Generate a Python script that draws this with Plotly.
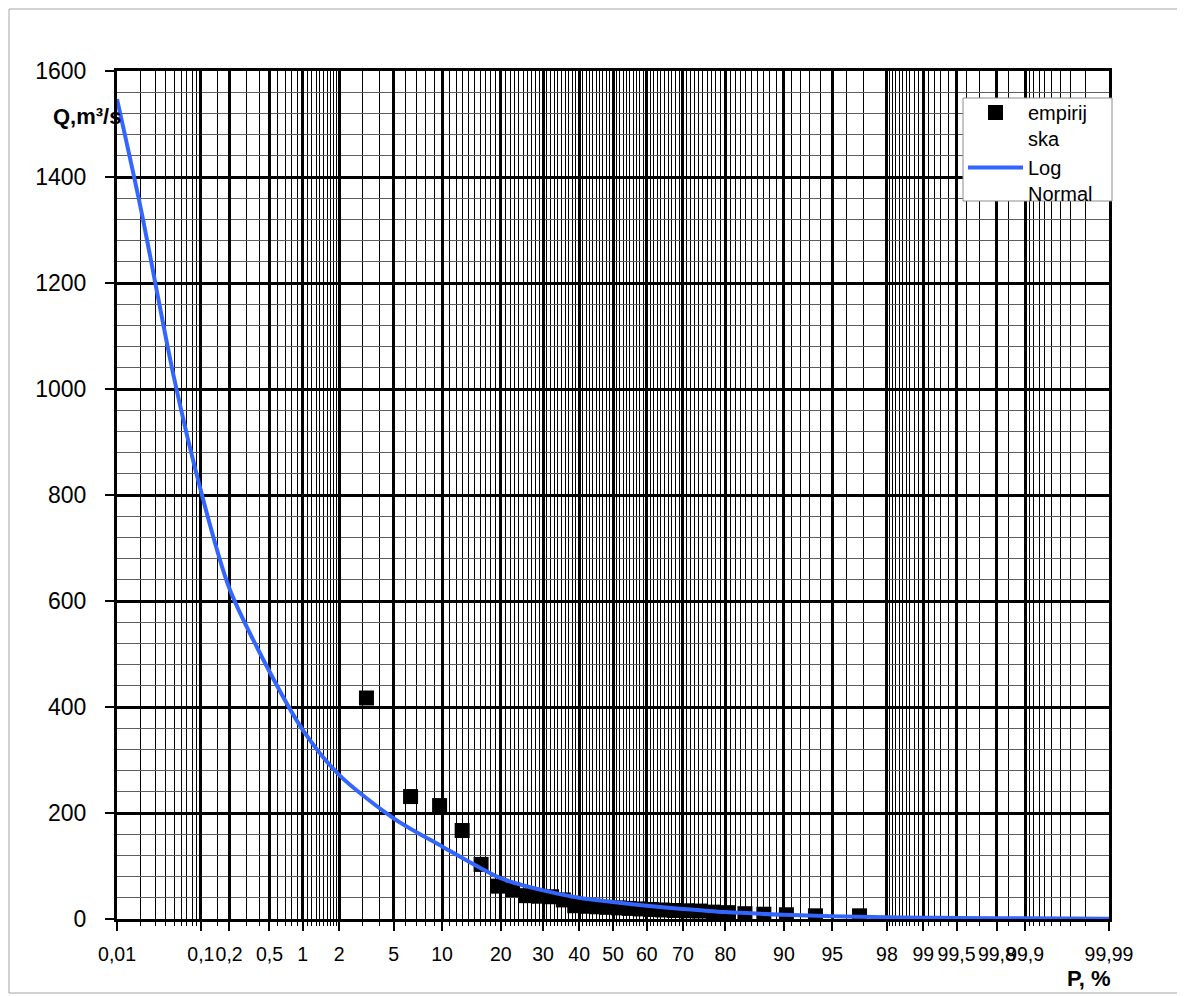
import plotly.graph_objects as go
from statistics import NormalDist

# ---------------- data ----------------
# empirical points: plotting position m/(n+1) in %, discharge Q (m3/s)
n_points = 30
emp_rank = list(range(1, n_points + 1))
emp_Q = [417, 231, 214, 167, 103, 62, 55, 44, 43, 42,
         36, 25, 24, 23, 22, 21, 20, 19, 18, 17,
         16, 15.5, 15, 13, 12, 10, 9, 8, 6, 6]

# fitted Log-Normal curve
curve_P = [0.01, 0.02, 0.05, 0.1, 0.2, 0.5, 1, 2, 5, 10, 20, 30, 40, 50,
           60, 70, 80, 90, 95, 98, 99, 99.5, 99.9, 99.99]
curve_Q = [1547, 1340, 1020, 808, 625, 467, 357, 272, 190, 137, 77, 54, 40, 32,
           25, 19, 13, 8, 5, 3.5, 2.5, 2, 1.2, 0.6]

# axis labels of the probability paper
tick_P = [0.01, 0.1, 0.2, 0.5, 1, 2, 5, 10, 20, 30, 40, 50, 60, 70, 80, 90,
          95, 98, 99, 99.5, 99.8, 99.9, 99.99]
tick_text = ["0,01", "0,1", "0,2", "0,5", "1", "2", "5", "10", "20", "30", "40",
             "50", "60", "70", "80", "90", "95", "98", "99", "99,5", "99,8",
             "99,9", "99,99"]

# thin grid lines of the probability paper
minor_P = ([0.02, 0.03, 0.04, 0.05, 0.06, 0.07, 0.08, 0.09, 0.15, 0.3, 0.4,
            0.6, 0.7, 0.8, 0.9]
           + [1.1, 1.2, 1.3, 1.4, 1.5, 1.6, 1.7, 1.8, 1.9, 3, 4, 6, 7, 8, 9]
           + [p for p in range(11, 90) if p % 10 != 0]
           + [91, 92, 93, 94, 96, 97]
           + [98.1, 98.2, 98.3, 98.4, 98.5, 98.6, 98.7, 98.8, 98.9,
              99.1, 99.2, 99.3, 99.4, 99.6, 99.7, 99.85,
              99.91, 99.92, 99.93, 99.94, 99.95, 99.96, 99.97, 99.98])

# ---------------- probability scale ----------------
_nd = NormalDist()


def pscale(p):
    return _nd.inv_cdf(p / 100.0)


emp_P = [100.0 * m / (n_points + 1) for m in emp_rank]

FONT = "Liberation Sans, Arial, sans-serif"

fig = go.Figure()

fig.add_trace(go.Scatter(
    x=[pscale(p) for p in emp_P], y=emp_Q, mode="markers",
    name="empirij<br>ska",
    marker=dict(symbol="square", size=15, color="black"),
))

fig.add_trace(go.Scatter(
    x=[pscale(p) for p in curve_P], y=curve_Q, mode="lines",
    name="Log<br>Normal",
    line=dict(color="#3366ff", width=4, shape="spline", smoothing=0.8),
))

# page offset of the figure (body margin) is 8 px
OFF = 8
W, H = 1185 - OFF, 996 - OFF
L, T = 117 - OFF, 71 - OFF
pw, ph = 992, 848
R, B = W - L - pw, H - T - ph


def px_x(x):
    return (x - OFF - L) / pw


def px_y(y):
    return (T + ph - (y - OFF)) / ph


fig.update_layout(
    width=W, height=H,
    margin=dict(l=L, r=R, t=T, b=B),
    paper_bgcolor="white", plot_bgcolor="white",
    font=dict(family=FONT, color="black", size=20),
    showlegend=True,
    legend=dict(
        x=px_x(963), y=px_y(93), xanchor="left", yanchor="top",
        bgcolor="rgba(0,0,0,0)", borderwidth=0,
        font=dict(family=FONT, size=20, color="black"),
        itemwidth=55, valign="top", tracegroupgap=0,
    ),
    xaxis=dict(
        range=[pscale(0.01), pscale(99.99)],
        tickmode="array",
        tickvals=[pscale(p) for p in tick_P],
        ticktext=tick_text,
        tickangle=0,
        tickfont=dict(family=FONT, size=19.5, color="black"),
        ticks="outside", ticklen=9, tickwidth=2, tickcolor="black",
        ticklabelstandoff=7,
        showgrid=True, gridcolor="black", gridwidth=3,
        showline=True, linecolor="black", linewidth=3, mirror=True,
        zeroline=False,
        minor=dict(
            tickmode="array",
            tickvals=[pscale(p) for p in minor_P],
            showgrid=True, gridcolor="black", gridwidth=1,
            ticks="outside", ticklen=4, tickwidth=1, tickcolor="black",
        ),
    ),
    yaxis=dict(
        range=[0, 1600],
        tickmode="linear", tick0=0, dtick=200,
        tickfont=dict(family=FONT, size=23, color="black"),
        ticks="outside", ticklen=9, tickwidth=2, tickcolor="black",
        ticklabelstandoff=14,
        showgrid=True, gridcolor="black", gridwidth=2.5,
        showline=True, linecolor="black", linewidth=3, mirror=True,
        zeroline=False,
        minor=dict(
            dtick=40, tick0=0, showgrid=True, gridcolor="#5e5e5e",
            gridwidth=1, ticks="",
        ),
    ),
    annotations=[
        dict(text="<b>Q,m³/s</b>", xref="paper", yref="paper",
             x=px_x(51), y=px_y(116), xanchor="left", yanchor="middle",
             showarrow=False, font=dict(family=FONT, size=22, color="black")),
        dict(text="<b>P, %</b>", xref="paper", yref="paper",
             x=px_x(1113), y=px_y(978), xanchor="right", yanchor="middle",
             showarrow=False, font=dict(family=FONT, size=22, color="black")),
    ],
    shapes=[
        # legend box
        dict(type="rect", xref="paper", yref="paper",
             x0=px_x(963), x1=px_x(1112), y0=px_y(201), y1=px_y(98),
             fillcolor="white", line=dict(color="#8c8c8c", width=1),
             layer="above"),
        # chart-area border
        dict(type="rect", xref="paper", yref="paper",
             x0=px_x(OFF + 1), x1=px_x(1182), y0=px_y(993), y1=px_y(OFF + 1),
             fillcolor="rgba(0,0,0,0)", line=dict(color="#a6a6a6", width=1),
             layer="below"),
    ],
)

fig.write_html("out.html")
